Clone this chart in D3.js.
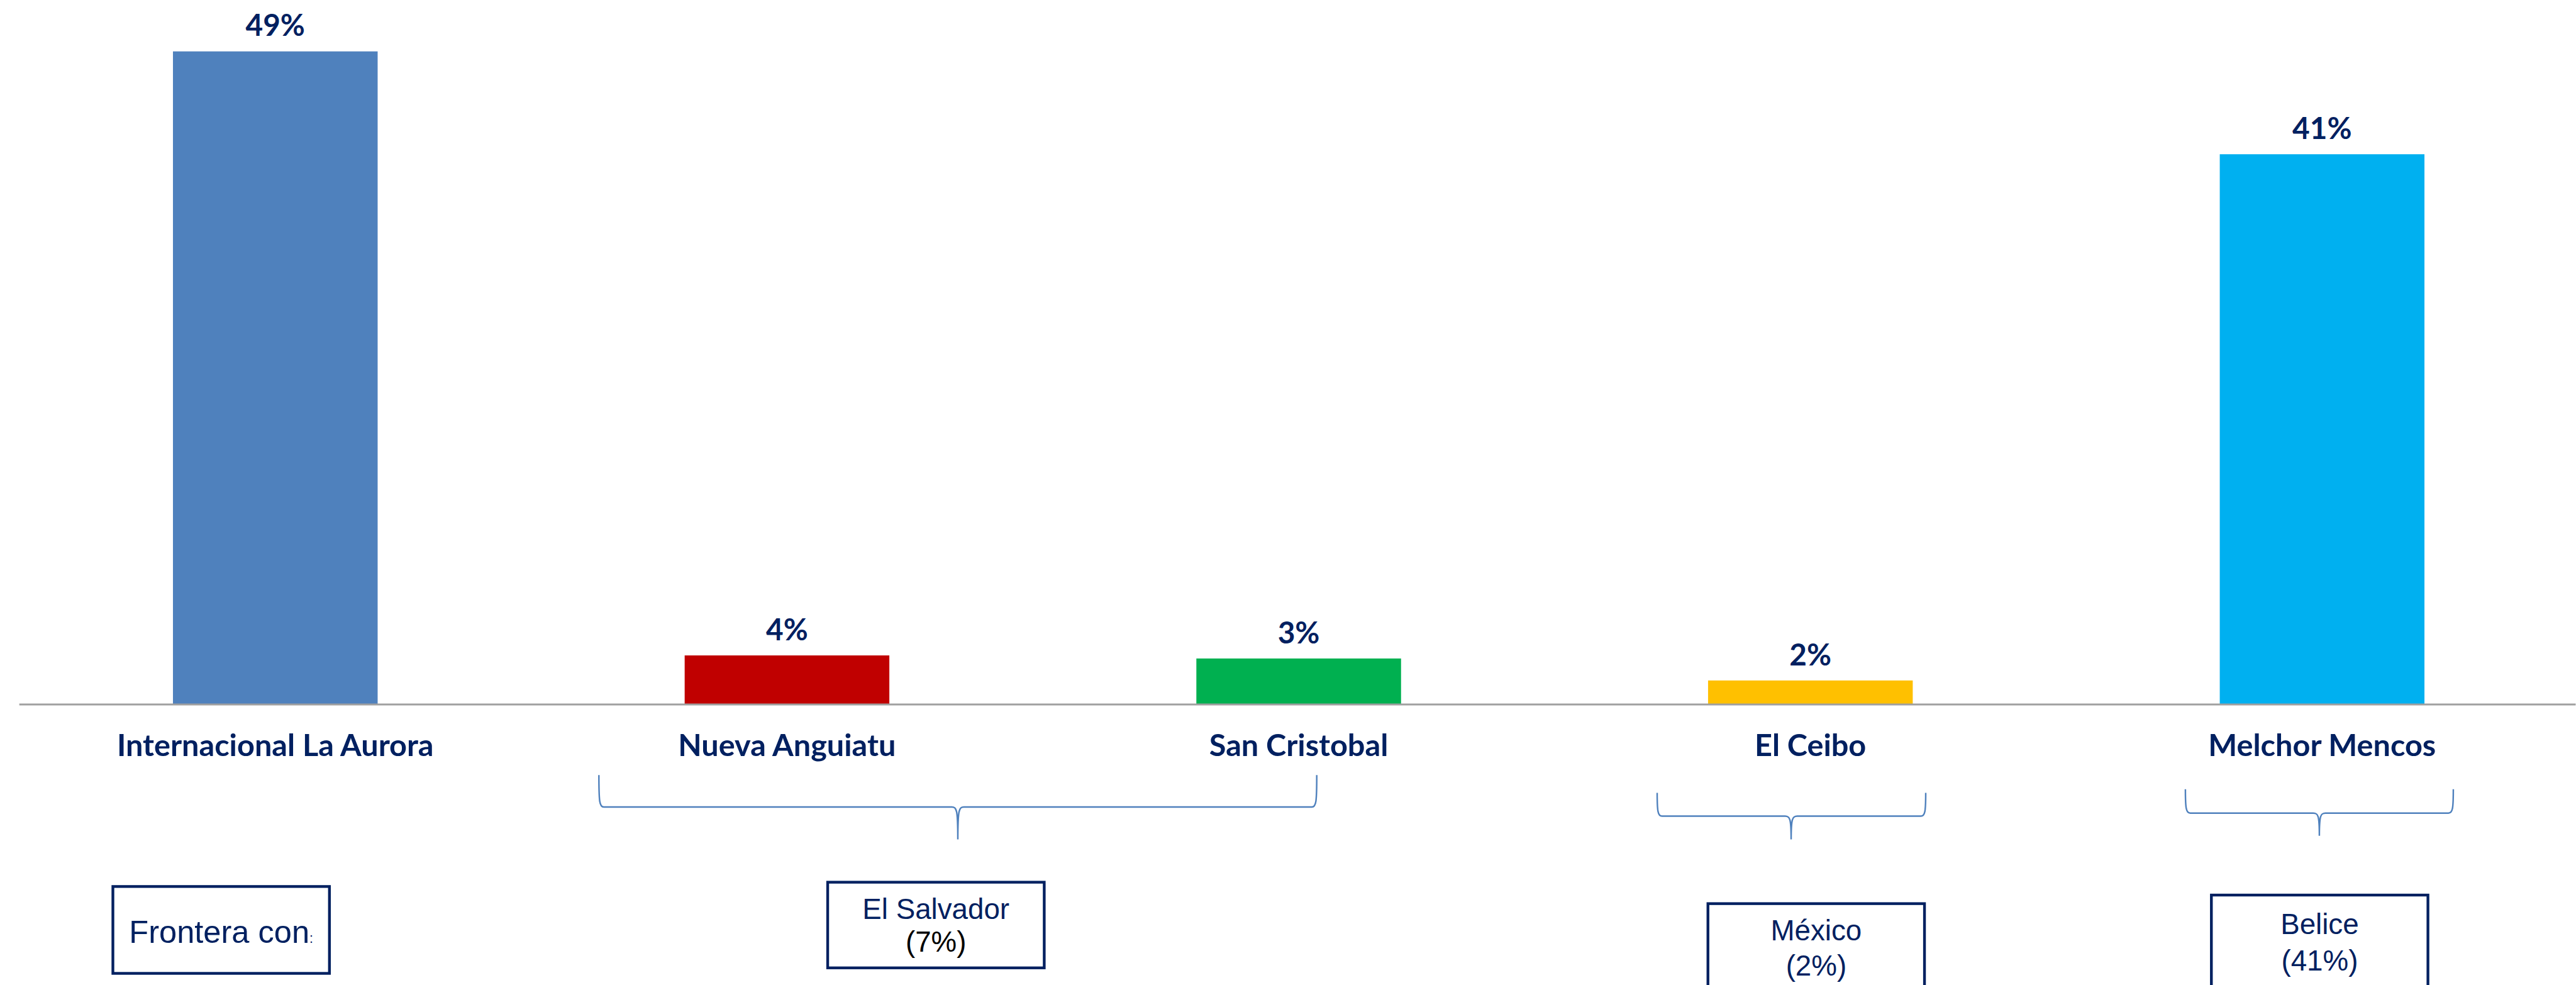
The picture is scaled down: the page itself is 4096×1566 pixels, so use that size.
<!DOCTYPE html>
<html><head><meta charset="utf-8">
<script src="https://cdn.jsdelivr.net/npm/d3@7"></script>
<style>html,body{margin:0;padding:0;background:#fff;overflow:hidden}</style>
</head><body>
<svg id="chart"></svg>
<script>
// ---- data ----
const categories = ["Internacional La Aurora","Nueva Anguiatu","San Cristobal","El Ceibo","Melchor Mencos"];
const values = [49, 3.66, 3.43, 1.78, 41.28];
const valueLabels = ["49%","4%","3%","2%","41%"];
const barColors = ["#4f81bd","#c00000","#00b050","#ffc000","#00b0f0"];
const groupNames = ["El Salvador","México","Belice"];
const groupPct = ["(7%)","(2%)","(41%)"];
const groupMembers = [[1,2],[3],[4]];

// ---- layout (reference units) ----
const W = 4210, H = 1610;
const svg = d3.select("#chart").attr("width",4096).attr("height",1566)
  .attr("viewBox",`0 0 ${W} ${H}`);
const baseY = 1151, topY = 84;
const x = d3.scaleBand().domain(categories).range([31.25, 31.25+5*836.5]).paddingInner(0.6).paddingOuter(0.3);
const y = d3.scaleLinear().domain([0, 49]).range([baseY, topY]);
const navy = "#002060";

svg.append("g").selectAll("rect").data(categories).join("rect")
  .attr("x", d=>x(d)).attr("width", x.bandwidth())
  .attr("y", (d,i)=>y(values[i])).attr("height",(d,i)=>baseY-y(values[i]))
  .attr("fill",(d,i)=>barColors[i]);

svg.append("line").attr("x1",31).attr("x2",W).attr("y1",baseY+0.5).attr("y2",baseY+0.5)
  .attr("stroke","#a0a0a0").attr("stroke-width",3);

svg.append("g").selectAll("text").data(categories).join("text")
  .attr("x", d=>x(d)+x.bandwidth()/2).attr("y",(d,i)=>y(values[i])-25)
  .attr("text-anchor","middle").attr("font-family","Lato, 'Open Sans', sans-serif")
  .attr("font-weight","bold").attr("font-size",49).attr("fill",navy)
  .text((d,i)=>valueLabels[i]);

svg.append("g").selectAll("text").data(categories).join("text")
  .attr("x", d=>x(d)+x.bandwidth()/2).attr("y",1236)
  .attr("text-anchor","middle").attr("font-family","Lato, 'Open Sans', sans-serif")
  .attr("font-weight","bold").attr("font-size",50).attr("fill",navy)
  .text(d=>d);

// braces
const braceSpecs = [
  {l:-307.5, r:29.5, yT:1267, yH:1319, tip:1372, tipDx:0},
  {l:-250.5, r:188.5, yT:1296, yH:1334, tip:1372, tipDx:-31.5},
  {l:-223.5, r:214.5, yT:1290, yH:1329, tip:1366, tipDx:-4.5}
];
braceSpecs.forEach((b,gi)=>{
  const mem = groupMembers[gi];
  const c0 = x(categories[mem[0]])+x.bandwidth()/2;
  const c1 = x(categories[mem[mem.length-1]])+x.bandwidth()/2;
  const xL = c0 + b.l, xR = c1 + b.r;
  const xM = gi===0 ? (xL+xR)/2 : c0 + b.tipDx;
  const p = d3.path();
  p.moveTo(xL,b.yT);
  p.bezierCurveTo(xL,b.yH-8, xL+1,b.yH, xL+8,b.yH);
  p.lineTo(xM-10,b.yH);
  p.bezierCurveTo(xM-2,b.yH, xM,b.yH+4, xM,b.tip);
  p.moveTo(xM,b.tip);
  p.bezierCurveTo(xM,b.yH+4, xM+2,b.yH, xM+10,b.yH);
  p.lineTo(xR-8,b.yH);
  p.bezierCurveTo(xR-1,b.yH, xR,b.yH-8, xR,b.yT);
  svg.append("path").attr("d",p.toString()).attr("fill","none")
    .attr("stroke","#4f81bd").attr("stroke-width",2.5);
});

// boxes
const boxes = [
  {cx:361, y0:1447, y1:1593},
  {cx:1529.5, y0:1440, y1:1584},
  {cx:2968.5, y0:1475, y1:1640},
  {cx:3791.5, y0:1461, y1:1640}
];
boxes.forEach(b=>{
  svg.append("rect").attr("x",b.cx-177).attr("y",b.y0+2).attr("width",354).attr("height",b.y1-b.y0-4)
    .attr("fill","#fff").attr("stroke",navy).attr("stroke-width",4.5);
});
const f = "'Liberation Sans', Arial, sans-serif";
const t0 = svg.append("text").attr("x",boxes[0].cx).attr("y",1541).attr("text-anchor","middle")
  .attr("font-family",f).attr("font-size",52).attr("fill",navy);
t0.append("tspan").text("Frontera con");
t0.append("tspan").attr("font-size",22).text(":");

const lineY = [[1502,1556],[1537,1595],[1527,1586]];
const pctColors = ["#000000", navy, navy];
groupNames.forEach((g,i)=>{
  const b = boxes[i+1];
  svg.append("text").attr("x",b.cx).attr("y",lineY[i][0]).attr("text-anchor","middle")
    .attr("font-family",f).attr("font-size",47).attr("fill",navy).text(g);
  svg.append("text").attr("x",b.cx).attr("y",lineY[i][1]).attr("text-anchor","middle")
    .attr("font-family",f).attr("font-size",47).attr("fill",pctColors[i]).text(groupPct[i]);
});
</script>
</body></html>
